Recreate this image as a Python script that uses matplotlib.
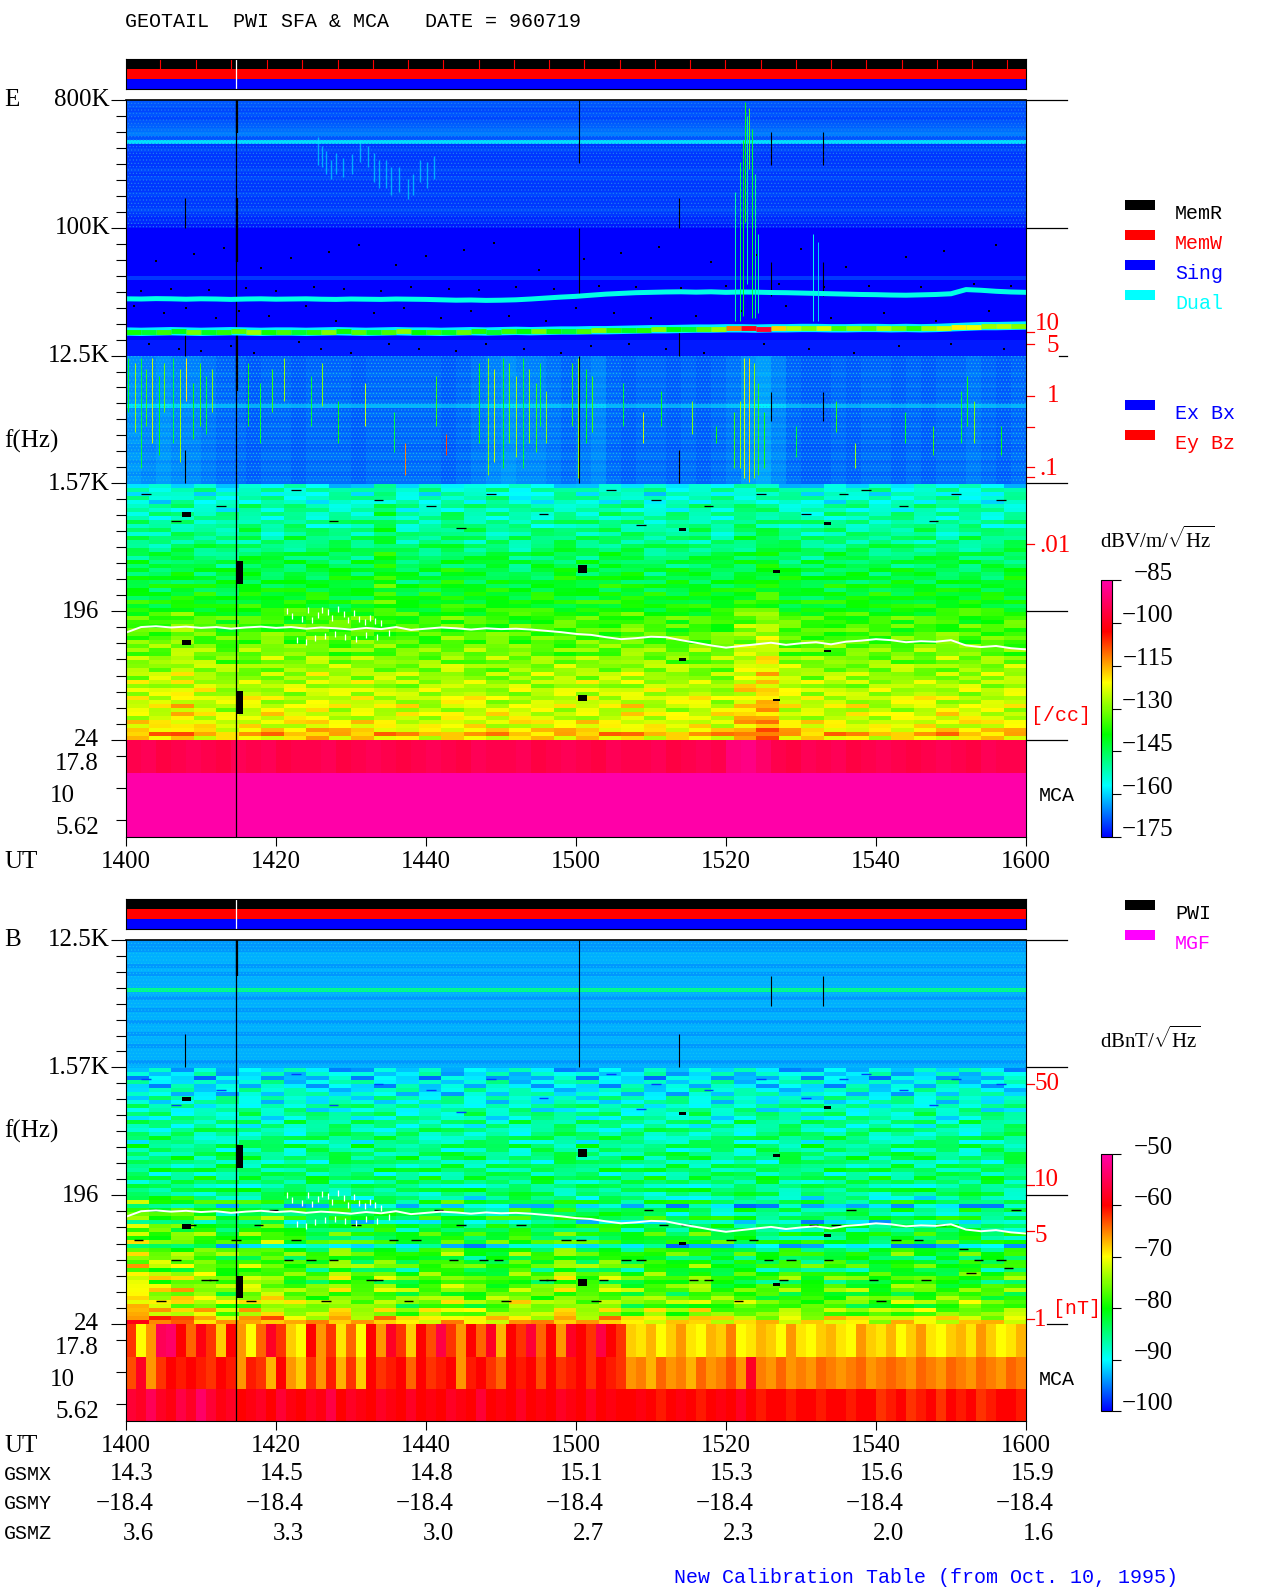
import numpy as np
import matplotlib
matplotlib.use("Agg")
import matplotlib.pyplot as plt
from matplotlib.colors import LinearSegmentedColormap, Normalize
from matplotlib.patches import Rectangle

W, H = 1280, 1593
plt.rcParams['font.family'] = ['Liberation Serif', 'DejaVu Serif']
plt.rcParams['mathtext.fontset'] = 'custom'
plt.rcParams['mathtext.rm'] = 'Liberation Serif'
plt.rcParams['hatch.linewidth'] = 0.4

# time is minutes after 1400 UT
time_ticks = [0, 20, 40, 60, 80, 100, 120]
time_labels = ['1400', '1420', '1440', '1500', '1520', '1540', '1600']
gsmx = ['14.3', '14.5', '14.8', '15.1', '15.3', '15.6', '15.9']
gsmy = ['-18.4'] * 7
gsmz = ['3.6', '3.3', '3.0', '2.7', '2.3', '2.0', '1.6']

# E panel, dB per row from 800 kHz down to 24 Hz
e_rows = [-169, -169, -170, -169, -170, -169, -168, -167,
          -166, -169, -159,
          -171, -170, -171, -171, -171, -171, -170, -171, -170, -171, -171,
          -171, -170, -171, -171, -171, -170, -171, -172, -172, -173,
          -175, -175, -175, -175, -175, -175, -175, -175, -175, -175, -175, -175,
          -171,
          -175, -175, -175, -175, -175, -175, -175, -175, -175, -175, -175, -175,
          -175, -175, -175, -173, -173, -173, -173,
          -168, -168, -168, -168, -167, -168, -168, -167, -168, -167, -168, -167,
          -162, -168, -167, -168, -168, -167, -168, -167, -168, -167, -168, -168,
          -167, -167, -168, -167, -167, -168, -167, -167,
          -157, -152, -155, -152, -155, -150, -153, -150,
          -152, -149, -151, -148, -150, -147, -149, -147,
          -147, -145, -146, -144, -145, -143, -144, -142,
          -143, -141, -142, -140, -141, -139, -140, -138,
          -137, -135, -136, -134, -135, -134, -133, -134,
          -132, -130, -133, -129, -131, -128, -130, -127,
          -129, -126, -128, -125, -127, -124, -126, -123,
          -126, -123, -125, -122, -123, -120, -115, -121]
# dB added per 2-minute column, frequency regions below 12.5 kHz
e_col_hf = [3, 2, 3, 2, 2, 1, 0, 0, -1, 0, 0, -1, 0, 0, 0, -1, 0, 0, 0, 0,
            0, -1, 0, 1, 2, 3, 2, 2, 1, 0, 1, 2, 0, -1, 0, 0, -1, 0, -1, 0,
            1, 3, 4, 2, 0, -1, -1, 0, -1, 0, 0, -1, 0, -1, 0, 0, 1, 0, -1, 0]
e_col_hi = [0, -1, 0, 1, 0, 0, -1, 1, 0, 0, 1, -1, 0, 0, 1, 0, 5, 1, -1, 0,
            1, 2, 0, 0, 1, -1, 0, 0, 1, 0, 0, 1, 0, 1, -1, 0, 0, 0, 1, 0,
            2, 8, 3, 0, 0, -1, 0, 1, 0, 0, -1, 0, 0, 1, 0, 0, 0, -1, 0, 0]
e_col_lo = [1, 1, 0, 4, 1, 0, -1, 0, 0, 1, 0, 0, 2, 0, 0, 1, 0, 1, 0, -1,
            0, 1, 0, 1, 0, 0, 1, 0, 0, 0, 1, 0, 0, 2, 0, -1, 0, 0, 1, 0,
            5, 16, 8, 1, 0, 0, 0, 3, 0, -1, 0, 0, 0, 0, 1, 0, 0, 0, 0, 0]
e_mca1 = [-95, -94, -96, -95, -94, -95, -96, -94, -95, -94, -96, -95, -95, -94, -96,
          -95, -94, -95, -96, -95, -94, -95, -96, -94, -95, -95, -94, -96, -95, -94,
          -95, -96, -94, -95, -95, -94, -96, -95, -94, -95, -90, -89, -92, -95, -96,
          -94, -95, -94, -96, -95, -94, -95, -96, -95, -94, -95, -96, -94, -95, -95]
e_mca2 = [-85] * 60
e_mca3 = [-85] * 60

# B panel, dB per row from 12.5 kHz down to 24 Hz
b_rows = [-94, -94, -94, -93, -93, -93, -94, -93, -94, -93, -93, -93,
          -85, -93, -94, -93, -93, -94, -93, -93, -94, -93, -93, -94,
          -93, -93, -94, -93, -93, -93, -94, -93,
          -91, -90, -92, -89, -91, -89, -90, -88,
          -89, -87, -88, -86, -88, -85, -87, -86,
          -86, -85, -87, -84, -86, -85, -84, -86,
          -85, -84, -86, -83, -85, -86, -84, -85,
          -88, -83, -92, -84, -86, -82, -90, -83,
          -85, -81, -84, -80, -92, -82, -79, -83,
          -81, -78, -84, -79, -77, -82, -78, -76,
          -80, -77, -75, -79, -74, -76, -71, -70]
b_col_hi = [0] * 60
b_col_lo = [8, 6, 4, 6, 5, 3, 2, 4, 3, 5, 2, 3, 1, 4, 2, 1, 3, 2, 0, 2,
            1, 3, 0, 2, 1, 3, 5, 1, 4, 2, 1, 3, 2, 0, 2, 1, 0, 2, 1, 0,
            0, 1, -1, 0, 1, -1, 0, 1, 0, -1, 0, 1, 0, -1, 0, 1, 0, -1, 0, 1]
b_mca1 = [-62, -70, -66, -55, -54, -60, -64, -59, -62, -68, -60, -66, -70, -64, -58, -62, -68, -70,
          -60, -66, -62, -69, -64, -70, -60, -66, -58, -62, -68, -60, -63, -56, -62, -66, -60, -64,
          -58, -67, -60, -62, -57, -64, -60, -66, -58, -60, -62, -56, -60, -62,
          -68, -69, -67, -70, -68, -66, -69, -70, -67, -68, -65, -70, -69, -67, -68, -70, -66, -69,
          -70, -68, -67, -69, -70, -66, -68, -69, -67, -70, -68, -66, -69, -70, -68, -67, -69, -66,
          -68, -70, -69, -67]
b_mca2 = [-63, -58, -66, -62, -60, -61, -60, -61, -62, -60, -61, -66, -61, -62, -67, -60, -66, -68,
          -62, -66, -61, -67, -62, -68, -60, -62, -61, -60, -64, -60, -62, -61, -60, -66, -61, -60,
          -62, -64, -60, -61, -60, -63, -60, -62, -61, -60, -62, -60, -61, -62,
          -66, -65, -67, -64, -66, -65, -67, -64, -66, -65, -63, -66, -58, -65, -66, -64, -66, -65,
          -66, -64, -65, -66, -65, -64, -66, -65, -64, -65, -66, -64, -65, -66, -64, -65, -66, -64,
          -65, -66, -64, -65]
b_mca3 = [-57, -58, -55, -58, -59, -56, -58, -54, -57, -59, -58, -60, -59, -58, -60, -57, -59, -60,
          -58, -59, -56, -60, -58, -59, -60, -58, -59, -60, -58, -60, -59, -60, -58, -59, -60, -57,
          -60, -59, -60, -58, -60, -59, -60, -58, -59, -60, -58, -60, -59, -60,
          -60, -59, -60, -61, -60, -59, -60, -61, -60, -59, -60, -58, -60, -61, -60, -60, -61, -60,
          -60, -61, -60, -60, -61, -60, -60, -62, -61, -60, -62, -61, -60, -62, -60, -61, -60, -62,
          -61, -60, -60, -61]

# block by block level within the low-frequency rows, one digit per 3-minute cell
sfa_cells = [
    "3817264950173826495016283749501627384950",
    "6249038175624903817562490381756249038175",
    "1750862439175086243917508624391750862439",
    "8326159047832615904783261590478326159047",
    "4093728516409372851640937285164093728516",
    "2681495730268149573026814957302681495730",
    "7514062893751406289375140628937514062893",
    "0962837415096283741509628374150962837415",
    "5138940627513894062751389406275138940627",
    "9470315268947031526894703152689470315268",
    "3625784901362578490136257849013625784901",
    "6803192574680319257468031925746803192574",
    "1297450386129745038612974503861297450386",
    "8541670932854167093285416709328541670932",
    "4716208359471620835947162083594716208359",
    "2059863147205986314720598631472059863147",
    "7382514069738251406973825140697382514069",
    "5940126783594012678359401267835940126783",
    "0674398125067439812506743981250674398125",
    "9213765840921376584092137658409213765840",
    "3856027194385602719438560271943856027194",
    "6127943058612794305861279430586127943058",
    "1490682537149068253714906825371490682537",
    "8765231409876523140987652314098765231409",
    "4302918765430291876543029187654302918765",
    "2978450163297845016329784501632978450163",
    "7041369825704136982570413698257041369825",
    "5619072384561907238456190723845619072384",
    "0385746291038574629103857462910385746291",
    "9852103746985210374698521037469852103746",
    "3167894520316789452031678945203167894520",
    "6420537981642053798164205379816420537981",
    "1793205864179320586417932058641793205864",
    "8206974135820697413582069741358206974135",
    "4537186029453718602945371860294537186029",
    "2164830957216483095721648309572164830957",
    "7895041362789504136278950413627895041362",
    "5028369714502836971450283697145028369714",
    "0341957286034195728603419572860341957286",
    "9672418053967241805396724180539672418053",
    "3916275840391627584039162758403916275840",
    "6058193427605819342760581934276058193427",
    "1285746930128574693012857469301285746930",
    "8430629175843062917584306291758430629175",
    "4769013582476901358247690135824769013582",
    "2307865419230786541923078654192307865419",
    "7152930846715293084671529308467152930846",
    "5684207193568420719356842071935684207193",
    "0926541738092654173809265417380926541738",
    "9471382065947138206594713820659471382065",
    "3208756914320875691432087569143208756914",
    "6539120847653912084765391208476539120847",
    "1872463059187246305918724630591872463059",
    "8045697312804569731280456973128045697312",
    "4613980275461398027546139802754613980275",
    "2790351648279035164827903516482790351648",
    "7326048591732604859173260485917326048591",
    "5187629403518762940351876294035187629403",
    "0451873962045187396204518739620451873962",
    "9603214875960321487596032148759603214875",
    "3748590126374859012637485901263748590126",
    "6215037489621503748962150374896215037489",
    "1974268305197426830519742683051974268305",
    "8350741692835074169283507416928350741692"]

# narrow emission lines in the E panel, one value per 2 minutes
line_t = np.arange(0, 122, 2)
cyan_khz = [31.5, 31.4, 31.6, 31.5, 31.3, 31.5, 31.4, 31.2, 31.4, 31.5, 31.3, 31.4, 31.5, 31.3, 31.2, 31.4,
            31.3, 31.2, 31.4, 31.3, 31.2, 31.0, 30.8, 30.9, 30.7, 30.8, 31.0, 31.4, 31.9, 32.4, 32.8, 33.4,
            34.0, 34.4, 34.8, 35.0, 35.2, 35.3, 35.1, 35.3, 35.0, 35.2, 35.1, 34.9, 34.8, 34.6, 34.4, 34.2,
            34.0, 33.8, 33.7, 33.5, 33.4, 33.6, 33.8, 34.2, 36.6, 36.2, 35.6, 35.2, 35.0]
green_khz = [18.5, 18.4, 18.5, 18.6, 18.5, 18.4, 18.5, 18.6, 18.5, 18.4, 18.5, 18.5, 18.4, 18.5, 18.6, 18.5,
             18.4, 18.5, 18.6, 18.5, 18.5, 18.4, 18.5, 18.6, 18.5, 18.6, 18.7, 18.6, 18.7, 18.8, 18.8, 18.9,
             18.9, 19.0, 19.1, 19.2, 19.2, 19.3, 19.4, 19.4, 19.5, 19.5, 19.4, 19.5, 19.5, 19.6, 19.6, 19.5,
             19.5, 19.6, 19.6, 19.5, 19.6, 19.5, 19.6, 19.8, 20.0, 20.2, 20.2, 20.3, 20.4]
green_db = [-138, -142, -135, -140, -131, -141, -136, -133, -128, -138, -134, -142, -136, -130, -138, -133,
            -141, -134, -129, -139, -135, -141, -132, -137, -142, -135, -139, -131, -138, -142, -134, -130,
            -136, -141, -137, -130, -139, -142, -133, -128, -112, -101, -98, -118, -126, -130, -124, -134,
            -129, -133, -127, -131, -136, -128, -125, -120, -122, -128, -126, -130, -132]
plasma_hz = [138, 151, 153, 150, 152, 149, 151, 147, 150, 152, 149, 151, 147, 150, 148, 145,
             149, 146, 151, 144, 147, 150, 148, 145, 148, 146, 147, 145, 142, 139, 135, 133,
             128, 124, 126, 129, 128, 122, 117, 112, 108, 111, 114, 117, 113, 116, 118, 114,
             119, 121, 124, 122, 118, 120, 119, 122, 112, 109, 111, 107, 105]
plasma_dot_t = [21.5, 22.1, 23.4, 24.2, 24.8, 25.6, 26.1, 26.9, 27.5, 28.2, 29.0, 29.6, 30.4, 31.1, 31.8,
                32.5, 33.2, 34.0, 22.8, 24.0, 25.2, 26.5, 27.8, 29.2, 30.6, 32.0, 33.5, 35.0]
plasma_dot_hz = [196, 180, 172, 198, 170, 184, 200, 192, 176, 202, 186, 168, 190, 172, 164,
                 175, 166, 160, 122, 118, 126, 130, 134, 128, 124, 132, 128, 138]

# vertical streaks between 12.5 kHz and 1.6 kHz
streak_t = [0.3, 1.2, 2.0, 2.6, 3.5, 4.4, 5.1, 6.3, 7.2, 8.0, 8.9, 9.8, 10.6, 11.4, 16.2, 17.8, 19.4, 21.0,
            24.6, 26.1, 28.3, 31.9, 35.7, 37.2, 41.3, 42.6, 47.1, 48.2, 49.0, 50.3, 51.1, 52.0, 52.9, 53.7,
            54.6, 55.2, 56.0, 59.5, 60.2, 61.3, 62.1, 66.2, 68.9, 71.3, 75.4, 78.6, 81.0, 81.8, 82.4, 83.0,
            83.7, 84.2, 85.1, 89.3, 94.6, 97.2, 103.8, 107.6, 111.3, 112.1, 113.0, 116.7]
streak_top_khz = [12, 11, 12, 10, 12, 9, 11, 12, 10, 12, 8, 11, 9, 10, 11, 8, 10, 12,
                  9, 11, 6, 8, 5, 3, 9, 3.5, 11, 12, 10, 12, 11, 9, 12, 10,
                  8, 11, 7, 11, 12, 10, 9, 8, 5, 7, 6, 4, 5, 6, 12, 12,
                  11, 8, 5, 4, 6, 3, 5, 4, 7, 9, 6, 4]
streak_low_khz = [5, 3.6, 2, 4, 3, 2.5, 5, 3, 2.2, 6, 3.2, 4, 3.5, 5, 4, 3, 5, 6,
                  4, 5.5, 3, 4, 2.6, 1.8, 4, 2.5, 3, 1.8, 2.2, 2, 3, 2.4, 2, 3,
                  2.6, 4, 3, 4, 1.7, 3, 3.6, 4, 3, 4, 3.5, 3, 2, 2, 1.7, 1.6,
                  1.7, 1.8, 2, 2.4, 3.6, 2, 3, 2.5, 3, 4, 3, 2.5]
streak_db = [-140, -128, -142, -135, -125, -140, -132, -143, -128, -120, -138, -135, -142, -130, -138, -142, -135, -128,
             -142, -130, -138, -125, -143, -112, -135, -108, -138, -130, -125, -140, -133, -128, -142, -130,
             -135, -142, -130, -136, -128, -140, -135, -142, -125, -140, -130, -138, -135, -128, -124, -118,
             -130, -136, -138, -142, -136, -128, -140, -135, -142, -138, -130, -140]

# emission column near 1523 UT rising out of the lines
spike_t = [81.2, 81.8, 82.2, 82.5, 82.8, 83.1, 83.4, 83.8, 84.2, 91.6, 92.3]
spike_top_khz = [180, 290, 420, 780, 620, 700, 500, 240, 90, 90, 80]
spike_low_khz = [22, 22, 24, 110, 40, 260, 23, 23, 25, 22, 22]
spike_db = [-150, -145, -140, -138, -150, -132, -142, -148, -152, -155, -160]

# faint slanted bursts around 300 kHz
burst_t = [25.6, 26.1, 26.7, 27.3, 28.0, 28.9, 30.1, 31.2, 32.3, 33.0, 33.7, 34.6, 35.3, 36.4, 37.6, 38.3, 39.2, 40.1, 41.0]
burst_top_khz = [440, 380, 350, 300, 340, 310, 330, 420, 380, 340, 300, 300, 270, 270, 220, 240, 300, 290, 320]
burst_low_khz = [280, 270, 240, 220, 240, 230, 240, 290, 270, 210, 190, 190, 170, 180, 160, 170, 210, 190, 220]

# black speckles in the quiet band, minutes and kHz
speck_t = [4, 9, 13, 18, 22, 27, 31, 36, 40, 45, 49, 55, 61, 66, 71, 78, 84, 90, 96, 104, 109, 116,
           2, 6, 11, 16, 20, 25, 29, 34, 38, 43, 47, 52, 57, 63, 68, 74, 80, 87, 93, 99, 106, 113, 118,
           1, 5, 8, 12, 15, 19, 24, 28, 33, 37, 42, 46, 51, 56, 60, 65, 70, 76, 82, 88, 94, 101, 108, 115,
           3, 7, 10, 14, 17, 23, 26, 30, 35, 39, 44, 48, 53, 58, 62, 67, 72, 77, 85, 91, 97, 103, 110, 117]
speck_khz = [58, 65, 72, 52, 61, 68, 75, 55, 63, 70, 78, 50, 60, 66, 73, 57, 64, 71, 53, 62, 69, 76,
             36, 37, 36.5, 37.5, 36, 38, 37, 36, 38, 37, 36.5, 38, 37, 39, 38, 37.5, 39, 40, 38, 39, 38, 40, 39,
             28, 25, 27, 23, 26, 24, 28, 22, 25, 27, 23, 26, 24, 22, 27, 25, 23, 24, 26, 28, 23, 25, 22, 26,
             15, 14, 13.5, 14.5, 13, 15.5, 14, 13, 15, 14, 13.5, 15, 14, 13, 14.5, 15, 14, 13, 15, 14, 13, 14.5, 15, 14]

# data gaps drawn black: start, end, low Hz, high Hz
gap_start = [7.5, 7.5, 14.6, 14.6, 60.2, 60.2, 73.7, 73.7, 86.2, 86.2, 93.0, 93.0]
gap_end = [8.6, 8.6, 15.6, 15.6, 61.5, 61.5, 74.7, 74.7, 87.2, 87.2, 94.0, 94.0]
gap_low = [905, 113, 304, 36.6, 365, 45, 725, 87, 365, 45, 800, 100]
gap_high = [975, 123, 441, 53, 415, 50, 760, 91, 385, 47, 840, 104]
# thin and thick vertical gaps
vgap_t = [7.8, 7.8, 7.8, 60.4, 60.4, 60.4, 73.7, 73.7, 73.7, 86.0, 86.0, 86.0, 92.9, 92.9, 92.9]
vgap_low = [100e3, 12.5e3, 1.57e3, 288e3, 33e3, 1.57e3, 100e3, 12.5e3, 1.57e3, 278e3, 33e3, 4.28e3, 278e3, 33e3, 4.28e3]
vgap_high = [163e3, 19.6e3, 2.7e3, 800e3, 100e3, 12.5e3, 163e3, 19.6e3, 2.7e3, 476e3, 57.6e3, 6.9e3, 476e3, 57.6e3, 6.9e3]
thick_low = [468e3, 57.6e3, 7e3]
thick_high = [800e3, 163e3, 19.6e3]

# black dashes in the low-frequency rows
dash_t = [3, 8, 14, 19, 24, 30, 35, 41, 47, 52, 58, 63, 69, 74, 80, 85, 91, 96, 102, 108, 113, 118,
          1, 6, 11, 17, 22, 27, 33, 38, 44, 49, 55, 60, 66, 71, 77, 83, 88, 94, 99, 105, 111, 116,
          4, 10, 16, 21, 26, 32, 37, 43, 50, 56, 62, 68, 75, 81, 87, 93, 100, 106, 112, 117]
dash_hz = [153, 120, 94, 153, 68, 120, 94, 153, 68, 120, 94, 49, 153, 120, 94, 68, 120, 153, 94, 120, 68, 153,
           94, 68, 49, 120, 94, 68, 49, 94, 120, 68, 49, 94, 68, 120, 49, 94, 68, 120, 49, 94, 82, 68,
           35, 49, 35, 68, 35, 49, 35, 68, 35, 49, 35, 68, 49, 35, 49, 68, 35, 49, 55, 60]
e_dash_t = [2, 12, 22, 33, 40, 48, 55, 64, 70, 77, 84, 90, 98, 103, 110, 116, 6, 27, 44, 68, 95, 107]
e_dash_hz = [1310, 1090, 1400, 1200, 1090, 1310, 950, 1400, 1200, 1090, 1310, 950, 1400, 1090, 1310, 1200,
             850, 850, 760, 800, 1310, 850]

mem_ticks = [4.5, 9.3, 14.0, 18.8, 23.5, 28.2, 32.9, 37.6, 42.3, 47.0, 51.7, 56.4, 61.1, 65.8, 70.5,
             75.2, 79.9, 84.6, 89.3, 94.0, 98.7, 103.4, 108.1, 112.8, 117.5]

e_density_hz = [18.5e3, 15.2e3, 6.53e3, 3.94e3, 2.04e3, 1.73e3, 582]
b_density_hz = [1191, 230, 109, 26]
e_cb_ticks = [-85, -100, -115, -130, -145, -160, -175]
b_cb_ticks = [-50, -60, -70, -80, -90, -100]

jet = LinearSegmentedColormap.from_list('pwi', ['#0000ff', '#00ffff', '#00ff00', '#ffff00',
                                                '#ff0000', '#ff00a8'], N=256)
e_norm = Normalize(-175, -85)
b_norm = Normalize(-100, -50)
mca_edges = [24, 14.04, 8.35, 4.96]
mca_ticks = [18.5, 11.0, 6.54]
cells = np.array([[int(c) for c in row] for row in sfa_cells], dtype=float) - 4.5


def px_text(x, y, s, color='black', ha='left', size=18, mono=False):
    fam = 'Liberation Mono' if mono else 'Liberation Serif'
    if mono:
        size = 14.4
    return fig.text(x / W, 1 - (y + 1.5) / H, s, color=color, ha=ha, va='center', fontsize=size, family=fam)


def px_axes(x0, y0, x1, y1):
    return fig.add_axes([x0 / W, 1 - y1 / H, (x1 - x0) / W, (y1 - y0) / H])


def swatch(x, y, color):
    fig.add_artist(Rectangle((x / W, 1 - (y + 10) / H), 30 / W, 10 / H, transform=fig.transFigure,
                             facecolor=color, edgecolor='none'))


def draw_panel(ax, rows, cols, region_rows, mca, top_hz, norm, major, right_from, cell_db):
    rows = np.array(rows, dtype=float)
    grid = np.tile(rows[:, None], (1, 60))
    for (start, stop), col in zip(region_rows, cols):
        grid[start:stop] = rows[start:stop, None] + np.array(col)[None, :]
    f_edges = np.geomspace(top_hz, 24, len(rows) + 1)
    t_edges = np.arange(0, 122, 2)
    ax.pcolormesh(t_edges, f_edges, grid, cmap=jet, norm=norm, antialiased=False)
    # block structure of the lowest 64 rows
    low_cols = np.repeat(grid[-64:], 2, axis=1)[:, :120]
    low_cols = low_cols[:, ::3][:, :40] + cells * cell_db
    mesh = ax.pcolormesh(np.linspace(0, 120, 41), f_edges[-65:], low_cols, cmap=jet, norm=norm, antialiased=False)
    for i, c in enumerate(mca):
        ax.pcolormesh(np.linspace(0, 120, len(c) + 1), mca_edges[i:i + 2], np.array(c)[None, :],
                      cmap=jet, norm=norm, antialiased=False)
    ax.set_yscale('log')
    ax.set_xlim(-0.07, 120)
    ax.set_ylim(4.96, top_hz)
    # minor marks between the labelled frequencies
    minors = []
    for hi, lo in zip(major[:-1], major[1:]):
        minors += list(np.geomspace(hi, lo, 9)[1:-1])
    ax.set_yticks(list(major), labels=[])
    ax.set_yticks(minors + mca_ticks, labels=[], minor=True)
    ax.tick_params(axis='y', which='major', length=10.8, width=0.8)
    ax.tick_params(axis='y', which='minor', length=7.2, width=0.8)
    ax.set_xticks(time_ticks, labels=[])
    ax.tick_params(axis='x', length=6.5, width=0.8)
    ax.spines['top'].set_visible(False)
    yt = ax.get_yaxis_transform()
    ax.plot([0, 1], [top_hz, top_hz], color='black', lw=1.2, transform=yt, clip_on=False)
    for f, start in zip(major, right_from):
        ax.plot([start, 1.046], [f, f], color='black', lw=0.9, transform=yt, clip_on=False)
    # gaps
    for a, b, lo, hi in zip(gap_start, gap_end, gap_low, gap_high):
        ax.fill_between([a, b], lo, hi, color='black', lw=0)
    ax.vlines(vgap_t, vgap_low, vgap_high, color='black', lw=0.8)
    ax.axvline(14.6, color='black', lw=0.9)
    ax.vlines([14.8] * 3, thick_low, thick_high, color='black', lw=1.6)
    ax.plot(line_t, plasma_hz, color='white', lw=1.4)
    ax.plot(plasma_dot_t, plasma_dot_hz, ls='none', marker='|', ms=4, mew=0.9, color='white')
    return mesh


def speckle(ax, f_hi, f_lo, color):
    ax.fill_between([0, 120], f_lo, f_hi, facecolor='none', edgecolor=color, hatch='.....', lw=0, zorder=1.2)


def status_bar(y0):
    ax = px_axes(125.5, y0, 1026, y0 + 30)
    ax.barh([2, 1, 0], [120.07] * 3, left=-0.07, height=1, color=['black', '#ff0000', '#0000ff'])
    ax.set_xlim(-0.07, 120)
    ax.set_ylim(-0.5, 2.5)
    ax.set_xticks([])
    ax.set_yticks([])
    ax.axvline(14.6, color='white', lw=0.9)
    return ax


def colorbar(mesh, y0, y1, ticks):
    cax = px_axes(1100.5, y0, 1112, y1)
    cb = fig.colorbar(mesh, cax=cax)
    cb.set_ticks(ticks)
    cb.set_ticklabels([])
    cax.tick_params(length=6.5, width=0.8)
    cax.minorticks_off()
    for v in ticks:
        frac = (v - ticks[-1]) / (ticks[0] - ticks[-1])
        px_text(1173, y1 - frac * (y1 - y0) - 8, '\u2212' + str(abs(v)), ha='right')


fig = plt.figure(figsize=(W / 100, H / 100), dpi=100, facecolor='white')

# ---- top panel ----
e_major = [800e3, 100e3, 12.5e3, 1.57e3, 196, 24]
ax_e = px_axes(125.5, 100, 1026, 837)
e_mesh = draw_panel(ax_e, e_rows, [e_col_hf, e_col_hi, e_col_lo], [(64, 96), (96, 128), (128, 160)],
                    [e_mca1, e_mca2, e_mca3], 800e3, e_norm, e_major, [1, 1, 1.037, 1, 1, 1], 1.2)
speckle(ax_e, 800e3, 100e3, '#2088f0')
speckle(ax_e, 12.5e3, 1.57e3, '#20c0e0')
ax_e.vlines(burst_t, np.array(burst_low_khz) * 1e3, np.array(burst_top_khz) * 1e3,
            color=jet(e_norm(-158)), lw=1.0, alpha=0.6)
ax_e.plot(np.array(speck_t), np.array(speck_khz) * 1e3, ls='none', marker='s', ms=1.6, mew=0, color='black')
ax_e.plot(line_t, np.array(cyan_khz) * 1e3, color=jet(e_norm(-155)), lw=3.6)
ax_e.plot(line_t, np.array(green_khz) * 1e3, color=jet(e_norm(-158)), lw=6)
ax_e.hlines(np.array(green_khz) * 1e3, line_t, line_t + 2, colors=jet(e_norm(np.array(green_db))), lw=3.5)
ax_e.vlines(spike_t, np.array(spike_low_khz) * 1e3, np.array(spike_top_khz) * 1e3,
            colors=jet(e_norm(np.array(spike_db))), lw=0.7)
ax_e.vlines(streak_t, np.array(streak_low_khz) * 1e3, np.array(streak_top_khz) * 1e3,
            colors=jet(e_norm(np.array(streak_db))), lw=0.7)
ax_e.hlines(e_dash_hz, e_dash_t, np.array(e_dash_t) + 1.3, color='black', lw=0.9)
yt_e = ax_e.get_yaxis_transform()
for f in e_density_hz:
    ax_e.plot([1, 1.009], [f, f], color='#ff0000', lw=0.9, transform=yt_e, clip_on=False)

bar_e = status_bar(59)
bar_e.vlines(mem_ticks, 1.5, 2.5, color='#ff0000', lw=0.8)

# ---- bottom panel ----
b_major = [12.5e3, 1.57e3, 196, 24]
ax_b = px_axes(125.5, 940, 1026, 1421)
b_mesh = draw_panel(ax_b, b_rows, [b_col_hi, b_col_lo], [(32, 64), (64, 96)],
                    [b_mca1, b_mca2, b_mca3], 12.5e3, b_norm, b_major, [1, 1, 1, 1.023], 0.9)
speckle(ax_b, 12.5e3, 1.57e3, '#10c8f0')
ax_b.hlines(dash_hz, dash_t, np.array(dash_t) + 1.3, color='black', lw=1.0, zorder=1.5)
ax_b.hlines(e_dash_hz, e_dash_t, np.array(e_dash_t) + 1.3, color='#0040ff', lw=1.0, zorder=1.5)
yt_b = ax_b.get_yaxis_transform()
for f in b_density_hz:
    ax_b.plot([1, 1.009], [f, f], color='#ff0000', lw=0.9, transform=yt_b, clip_on=False)
status_bar(899)

colorbar(e_mesh, 580, 837, e_cb_ticks)
colorbar(b_mesh, 1154, 1411, b_cb_ticks)

# ---- text, placed in pixels of the figure ----
px_text(125, 20, 'GEOTAIL  PWI SFA & MCA   DATE = 960719', mono=True)
px_text(4, 99, 'E')
px_text(4, 938, 'B')
for y in (440, 1130):
    px_text(4, y, 'f(Hz)')
for y, s in [(99, '800K'), (227, '100K'), (354, '12.5K'), (483, '1.57K')]:
    px_text(110, y, s, ha='right')
for y, s in [(611, '196'), (738, '24'), (762, '17.8'), (826, '5.62')]:
    px_text(99, y, s, ha='right')
px_text(75, 794, '10', ha='right')
for y, s in [(938, '12.5K'), (1067, '1.57K')]:
    px_text(110, y, s, ha='right')
for y, s in [(1195, '196'), (1322, '24'), (1346, '17.8'), (1410, '5.62')]:
    px_text(99, y, s, ha='right')
px_text(75, 1378, '10', ha='right')

for y in (861, 1445):
    px_text(4, y, 'UT')
    for t, s in zip(time_ticks, time_labels):
        px_text(126 + t * 7.5, y, s, ha='center')
for y, name, vals in [(1473, 'GSMX', gsmx), (1502, 'GSMY', gsmy), (1532, 'GSMZ', gsmz)]:
    px_text(4, y, name, mono=True)
    for t, s in zip(time_ticks, vals):
        px_text(154 + t * 7.5, y, s.replace('-', '\u2212'), ha='right')

# density labels
for x, y, s in [(1035, 323, '10'), (1047, 345, '5'), (1047, 394, '1'), (1039, 467, '.1'), (1039, 544, '.01')]:
    px_text(x, y, s, color='#ff0000')
px_text(1031, 714, '[/cc]', color='#ff0000', mono=True)
px_text(1039, 794, 'MCA', mono=True)
for x, y, s in [(1034, 1083, '50'), (1034, 1178, '10'), (1034, 1235, '5'), (1034, 1319, '1')]:
    px_text(x, y, s, color='#ff0000')
px_text(1053, 1307, '[nT]', color='#ff0000', mono=True)
px_text(1039, 1378, 'MCA', mono=True)

# legends
for y, s, c in [(200, 'MemR', 'black'), (230, 'MemW', '#ff0000'), (260, 'Sing', '#0000ff'), (290, 'Dual', '#00ffff'),
                (400, 'Ex Bx', '#0000ff'), (430, 'Ey Bz', '#ff0000'), (900, 'PWI', 'black'), (930, 'MGF', '#ff00ff')]:
    swatch(1125, y, c)
    px_text(1175, y + 12, s, color=c, mono=True)

px_text(1100, 538, r'dBV/m/$\sqrt{\mathrm{Hz}}$', size=15)
px_text(1100, 1038, r'dBnT/$\sqrt{\mathrm{Hz}}$', size=15)
px_text(674, 1576, 'New Calibration Table (from Oct. 10, 1995)', color='#0000ff', mono=True)

fig.savefig('out.png', dpi=100)
